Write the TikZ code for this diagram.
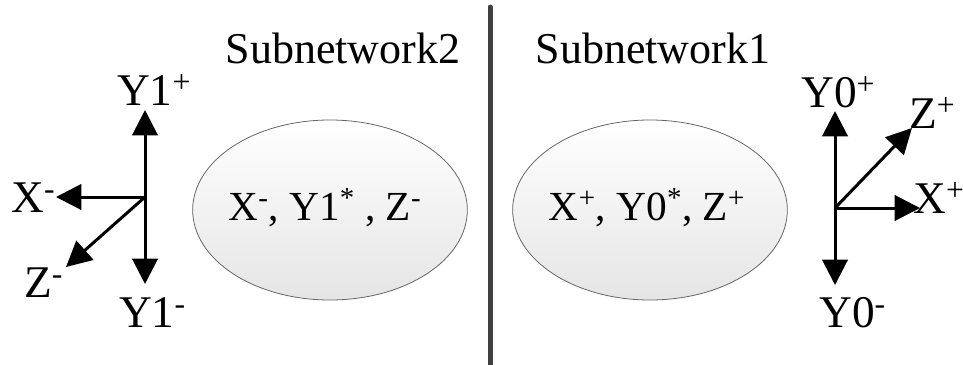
\documentclass[tikz,border=0pt]{standalone}
\usepackage{fontspec}
\setmainfont{Liberation Serif}
\usetikzlibrary{arrows.meta,shapes.geometric,shadings}
\begin{document}
\begin{tikzpicture}[x=0.75pt,y=-0.75pt,
  lbl/.style={inner sep=0pt,anchor=base west,font=\fontsize{34}{40}\selectfont},
  title/.style={inner sep=0pt,anchor=base,font=\fontsize{33}{40}\selectfont},
  inner/.style={inner sep=0pt,anchor=base,font=\fontsize{31}{40}\selectfont},
  axis/.style={line width=2.25pt,-{Triangle[length=19pt,width=19pt]}},
  blob/.style={ellipse,draw=black!60,line width=0.6pt,top color=white,bottom color=black!10,
    minimum width=206pt,minimum height=135pt,inner sep=0pt},
  divider/.style={line width=3.75pt,draw=black!75,line cap=round}]
\useasboundingbox (0,0) rectangle (963,364);

% separating wall
\coordinate (wtop) at (490,7);
\coordinate (wbot) at (490,370);
\draw[divider] (wtop) -- (wbot);

% titles
\node[title] (t2) at (343,63) {Subnetwork2};
\node[title] (t1) at (653,63) {Subnetwork1};

% subnetworks
\node[blob] (s2) at (330,210) {};
\node[blob] (s1) at (650,210) {};
\node[inner] (s2t) at (325,220) {X\textsuperscript{-}, Y1\textsuperscript{*} , Z\textsuperscript{-}};
\node[inner] (s1t) at (647,220) {X\textsuperscript{+}, Y0\textsuperscript{*}, Z\textsuperscript{+}};

% left frame
\coordinate (o2) at (145,197);
\coordinate (y2p) at (145,110);
\coordinate (y2m) at (145,284);
\coordinate (x2m) at (56,197);
\coordinate (z2m) at (66,267);
\draw[axis] (o2) -- (y2p);
\draw[axis] (o2) -- (y2m);
\draw[axis] (o2) -- (x2m);
\draw[axis] (o2) -- (z2m);
\node[lbl] (ly2p) at (117,105) {Y1\textsuperscript{+}};
\node[lbl] (lx2m) at (11,212) {X\textsuperscript{-}};
\node[lbl] (lz2m) at (24,297) {Z\textsuperscript{-}};
\node[lbl] (ly2m) at (119,327) {Y1\textsuperscript{-}};

% right frame
\coordinate (o1) at (835,208);
\coordinate (y1p) at (835,111);
\coordinate (y1m) at (835,285);
\coordinate (x1p) at (920,208);
\coordinate (z1p) at (912,128);
\draw[axis] (o1) -- (y1p);
\draw[axis] (o1) -- (y1m);
\draw[axis] (o1) -- (x1p);
\draw[axis] (o1) -- (z1p);
\node[lbl] (ly1p) at (801,107) {Y0\textsuperscript{+}};
\node[lbl] (lz1p) at (909,128) {Z\textsuperscript{+}};
\node[lbl] (lx1p) at (913,213) {X\textsuperscript{+}};
\node[lbl] (ly1m) at (819,327) {Y0\textsuperscript{-}};
\end{tikzpicture}
\end{document}
